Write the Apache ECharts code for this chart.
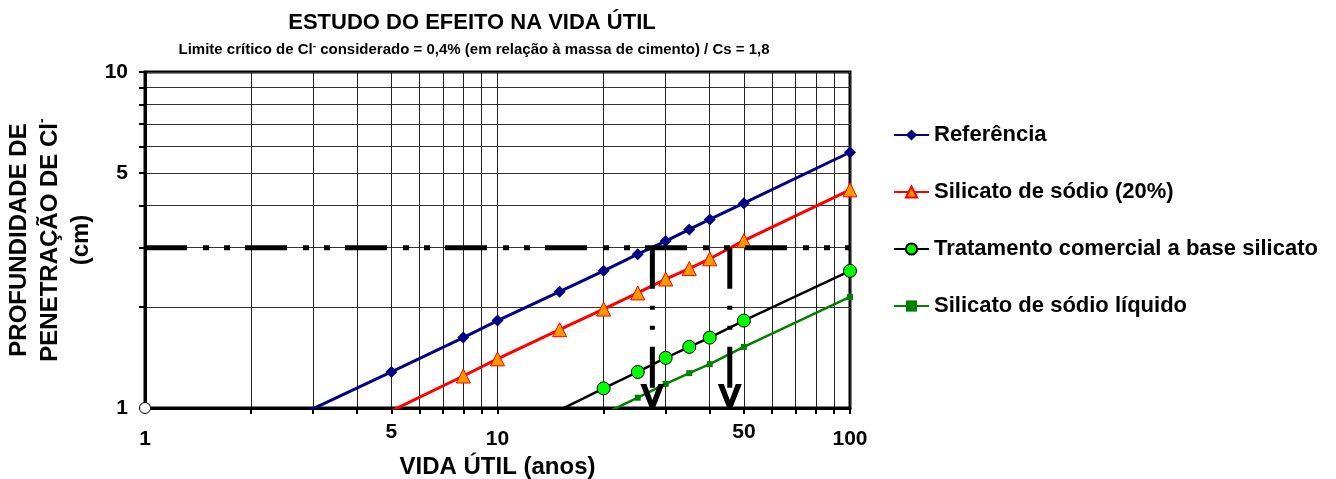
<!DOCTYPE html>
<html><head><meta charset="utf-8">
<script src="https://cdn.jsdelivr.net/npm/echarts@6/dist/echarts.min.js"></script>
<style>html,body{margin:0;padding:0;background:#fff}#c{width:1336px;height:479px}</style>
</head><body><div id="c"></div>
<script>
// ---- data ----
const years = [1, 5, 8, 10, 15, 20, 25, 30, 35, 40, 50, 100];
const referencia = [0.58, 1.28, 1.62, 1.82, 2.22, 2.56, 2.87, 3.14, 3.40, 3.64, 4.07, 5.77];
const silicato20 = [0.45, 0.98, 1.245, 1.40, 1.71, 1.97, 2.20, 2.42, 2.60, 2.78, 3.15, 4.46];
const tratamento = [0.26, 0.57, 0.72, 0.81, 0.985, 1.144, 1.28, 1.41, 1.52, 1.62, 1.82, 2.56];
const liquido = [0.21, 0.48, 0.61, 0.68, 0.83, 0.96, 1.073, 1.18, 1.27, 1.35, 1.52, 2.14];
const limiteCritico = 3;
const limiteX = [1, 100];
const vidaUtilX = [27.5, 45.6];
const origem = [1, 1];
const xTicks = [1, 2, 3, 4, 5, 6, 7, 8, 9, 10, 20, 30, 40, 50, 60, 70, 80, 90, 100];
const xLabels = [1, 5, 10, 50, 100];
const xLabelsRaised = [5, 50];
const yTicks = [1, 2, 3, 4, 5, 6, 7, 8, 9, 10];
const yLabels = [1, 5, 10];
const seriesNames = ['Referência', 'Silicato de sódio (20%)', 'Tratamento comercial a base silicato', 'Silicato de sódio líquido'];

const FONT = '"Liberation Sans", Arial, sans-serif';
const Y_MIN = 1, Y_MAX = 10, X_MIN = 1, X_MAX = 100;

function toData(vals) {
  return years.map((t, i) => vals[i] < Y_MIN ? { value: [t, vals[i]], symbol: 'none' } : [t, vals[i]]);
}

const chart = echarts.init(document.getElementById('c'), null, { renderer: 'canvas' });
const V_PATH = 'path://M0,0 L6,0 L12,16 L18,0 L24,0 L14.5,24 L9.5,24 Z';

const option = {
  animation: false,
  backgroundColor: '#fff',
  textStyle: { fontFamily: FONT },
  title: [
    { text: 'ESTUDO DO EFEITO NA VIDA ÚTIL', left: 467, top: 7, textAlign: 'center',
      textStyle: { fontFamily: FONT, fontSize: 22, fontWeight: 'bold', color: '#000' } },
    { text: '{a|Limite crítico de Cl}{s|-}{a| considerado = 0,4% (em relação à massa de cimento) / Cs = 1,8}',
      left: 469, top: 36, textAlign: 'center',
      textStyle: { fontFamily: FONT, fontSize: 15, fontWeight: 'bold', color: '#000',
        rich: { a: { fontFamily: FONT, fontSize: 15, fontWeight: 'bold', color: '#000', lineHeight: 17 },
                s: { fontFamily: FONT, fontSize: 10, fontWeight: 'bold', color: '#000', verticalAlign: 'top', lineHeight: 17 } } } }
  ],
  legend: {
    data: seriesNames,
    orient: 'vertical',
    left: 893, top: 124, padding: 0,
    itemWidth: 35, itemHeight: 14, itemGap: 35,
    textStyle: { fontFamily: FONT, fontSize: 22, fontWeight: 'bold', color: '#000', lineHeight: 22 },
    selectedMode: false
  },
  grid: { left: 145, right: 486, top: 72, bottom: 71, show: true, borderColor: '#000', borderWidth: 3, outerBoundsMode: 'none' },
  xAxis: {
    type: 'log', logBase: 10, min: X_MIN, max: X_MAX,
    name: 'VIDA ÚTIL (anos)', nameLocation: 'middle', nameGap: 46,
    nameTextStyle: { fontFamily: FONT, fontSize: 24, fontWeight: 'bold', color: '#000' },
    axisLine: { onZero: false, lineStyle: { color: '#000', width: 3 } },
    axisTick: { customValues: xTicks, length: 6, lineStyle: { color: '#000', width: 2 } },
    minorTick: { show: false },
    splitLine: { show: true, lineStyle: { color: '#222', width: 1 } },
    axisLabel: {
      customValues: xLabels, margin: 14,
      formatter: v => xLabelsRaised.indexOf(v) >= 0 ? '{hi|' + v + '}' : '{lo|' + v + '}',
      rich: {
        hi: { fontFamily: FONT, fontSize: 21, fontWeight: 'bold', color: '#000' },
        lo: { fontFamily: FONT, fontSize: 21, fontWeight: 'bold', color: '#000', padding: [7, 0, 0, 0] }
      }
    }
  },
  yAxis: {
    type: 'log', logBase: 10, min: Y_MIN, max: Y_MAX,
    name: '{a|PROFUNDIDADE DE}\n{a|PENETRAÇÃO DE Cl}{s|-}\n{a|(cm)}',
    nameLocation: 'middle', nameRotate: 90, nameGap: 47,
    nameTextStyle: { fontFamily: FONT, fontSize: 24, fontWeight: 'bold', color: '#000', align: 'center',
      rich: { a: { fontFamily: FONT, fontSize: 24, fontWeight: 'bold', color: '#000', lineHeight: 31 },
              s: { fontFamily: FONT, fontSize: 14, fontWeight: 'bold', color: '#000', verticalAlign: 'top', lineHeight: 26 } } },
    axisLine: { onZero: false, lineStyle: { color: '#000', width: 3 } },
    axisTick: { customValues: yTicks, length: 6, lineStyle: { color: '#000', width: 2 } },
    minorTick: { show: false },
    splitLine: { show: true, lineStyle: { color: '#333', width: 1 } },
    axisLabel: { customValues: yLabels, margin: 17, fontFamily: FONT, fontSize: 21, fontWeight: 'bold', color: '#000' }
  },
  series: [
    { name: seriesNames[0], type: 'line', data: toData(referencia), symbol: 'diamond', symbolSize: 12,
      lineStyle: { color: '#000080', width: 3 }, itemStyle: { color: '#000080' }, z: 3 },
    { name: seriesNames[1], type: 'line', data: toData(silicato20), symbol: 'triangle', symbolSize: 14,
      lineStyle: { color: '#FF0000', width: 3 }, itemStyle: { color: '#FF9900', borderColor: '#FF0000', borderWidth: 1 }, z: 3 },
    { name: seriesNames[2], type: 'line', data: toData(tratamento), symbol: 'circle', symbolSize: 13,
      lineStyle: { color: '#000000', width: 2.5 }, itemStyle: { color: '#00FF00', borderColor: '#000', borderWidth: 1 }, z: 3 },
    { name: seriesNames[3], type: 'line', data: toData(liquido), symbol: 'rect', symbolSize: 6,
      lineStyle: { color: '#008000', width: 2.5 }, itemStyle: { color: '#008000' }, z: 3 },
    { name: 'limite', type: 'line', data: limiteX.map(x => [x, limiteCritico]), symbol: 'none', silent: true,
      lineStyle: { color: '#000', width: 5, type: [42, 16, 6, 15, 6, 15], cap: 'butt' }, z: 5 },
    ...vidaUtilX.map((x, i) => ({
      name: 'seta' + i, type: 'line', data: [[x, limiteCritico], [x, Y_MIN]], symbol: 'none', silent: true, clip: false,
      lineStyle: { color: '#000', width: 5, type: [41, 17, 4, 16, 4, 17], cap: 'butt' }, z: 5 })),
    { name: 'pontas', type: 'scatter', data: vidaUtilX.map(x => [x, Y_MIN]), symbol: V_PATH, symbolSize: [24, 24],
      symbolOffset: [0, -12], clip: false, silent: true, itemStyle: { color: '#000', opacity: 1 }, z: 6 },
    { name: 'origem', type: 'scatter', data: [origem], symbol: 'circle', symbolSize: 11, clip: false, silent: true,
      itemStyle: { color: '#fff', borderColor: '#000', borderWidth: 1, opacity: 1 }, z: 6 }
  ]
};
chart.setOption(option);
</script></body></html>
